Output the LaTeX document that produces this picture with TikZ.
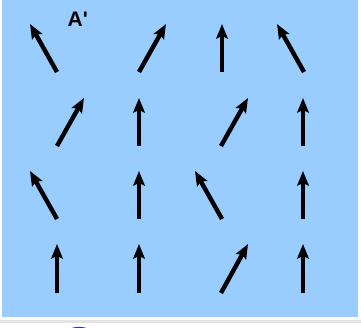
\documentclass[tikz,border=0pt]{standalone}
\usepackage{fontspec}
\setmainfont{Liberation Sans}
\usetikzlibrary{arrows.meta}
\definecolor{bgblue}{RGB}{153,204,255}
\definecolor{sep}{RGB}{228,228,228}
\definecolor{ballc}{RGB}{60,50,160}
\tikzset{vec/.style={line width=4.4pt,-{Stealth[length=14.5pt,width=11.5pt,inset=2.5pt]}}}
\begin{document}
\begin{tikzpicture}[x=1pt,y=-1pt]
\useasboundingbox (0,0) rectangle (361,328);
\fill[white] (0,0) rectangle (361,328);
\fill[bgblue] (2,0) rectangle (358,317);
\fill[sep] (0,320) rectangle (361,322.5);
\draw[ballc,line width=1.4pt] (79,352) circle (24.5);
\node[font=\bfseries\fontsize{21}{21}\selectfont,inner sep=0pt,anchor=base west] (lab) at (67.5,27) {A\XeTeXglyph\XeTeXcharglyph"27};
% row 1
\draw[vec] (57,72) -- (30,24);
\draw[vec] (139,72) -- (166,24);
\draw[vec] (222,72) -- (222,24);
\draw[vec] (304,72) -- (277,24);
% row 2
\draw[vec] (57,146) -- (84,98);
\draw[vec] (139,146) -- (139,98);
\draw[vec] (221,146) -- (248,98);
\draw[vec] (303,146) -- (303,98);
% row 3
\draw[vec] (57,219) -- (30,171);
\draw[vec] (139,219) -- (139,171);
\draw[vec] (222,219) -- (195,171);
\draw[vec] (303,219) -- (303,171);
% row 4
\draw[vec] (57,293) -- (57,244);
\draw[vec] (139,293) -- (139,244);
\draw[vec] (221,293) -- (248,244);
\draw[vec] (303,293) -- (303,244);
\end{tikzpicture}
\end{document}
